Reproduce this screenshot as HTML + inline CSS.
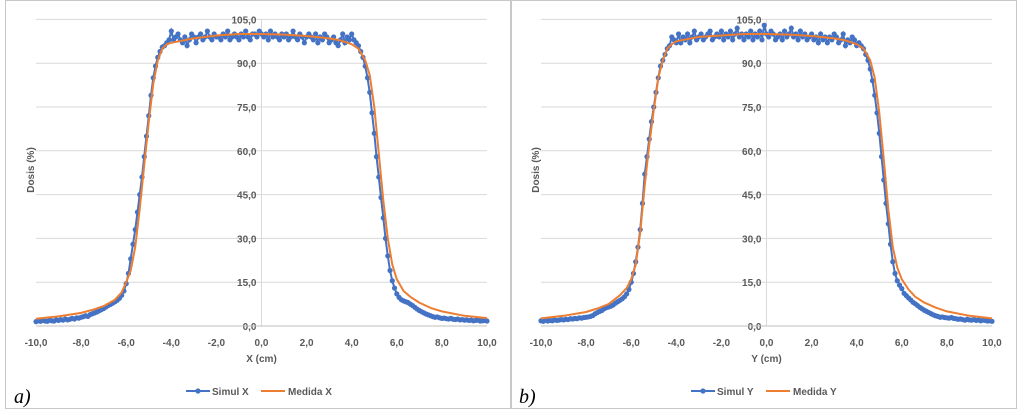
<!DOCTYPE html>
<html><head><meta charset="utf-8">
<style>
body{margin:0;background:#fff;width:1025px;height:415px;overflow:hidden;font-family:"Liberation Sans",sans-serif}
svg{display:block}
</style></head>
<body>
<svg id="chart" width="1025" height="415"></svg>
<script>
const gridX = [];
for (let i = 0; i <= 200; i++) gridX.push(-10 + i * 0.1);
const simulX = [1.5,1.8,1.6,1.9,1.7,1.6,2.0,1.8,1.7,2.1,1.9,
2.2,2.0,2.4,2.1,2.3,2.6,2.4,2.8,2.7,3.0,
3.2,3.5,3.3,3.9,4.2,4.5,4.8,5.2,5.6,6.0,
6.5,7.0,7.4,7.8,8.3,8.8,9.5,10.5,12,14.5,
18,23,28,33,39,45,51,58,65,72,
79,85,89,92,94,95.5,96,97,98,101,
98,99,100,98,97,99,96,98,100,99,
97,99,100,98,99,101,99,98,100,99,
99,98,100,99,101,98,99,100,99,98,
100,99,101,99,98,100,100,99,101,100,
99,100,98,101,99,100,99,98,100,99,
100,98,99,101,99,98,100,99,97,99,
100,99,98,100,97,99,98,100,99,97,
98,99,97,96,98,100,97,99,98,100,
98,97,96,94,92,89,85,80,73,66,
58,51,44,37,30,24,19,15.5,13,11,
9.8,9.0,8.6,8.3,8.0,7.5,7.0,6.4,5.8,5.3,
4.9,4.5,4.1,3.8,3.5,3.2,3.0,3.1,2.8,2.6,
2.7,2.5,2.4,2.6,2.3,2.2,2.4,2.1,2.2,2.0,
2.1,1.9,2.0,1.8,1.9,2.0,1.7,1.8,1.9,1.7];
const simulY = [1.8,1.6,2.0,1.7,1.9,1.8,2.1,1.9,2.0,2.2,2.1,
2.3,2.2,2.5,2.4,2.6,2.5,2.8,2.7,2.9,3.0,
3.1,3.3,3.6,4.2,4.6,5.0,5.3,5.9,6.3,6.5,
6.8,7.2,7.8,8.3,8.8,9.3,10,11,12.5,15,
18,22,27,33,42,52,58,64,70,75,
80,85,89,91,93,95,96,99,98,97,
100,97,99,98,100,97,99,101,98,99,
100,98,99,100,101,98,99,100,99,101,
98,100,99,101,98,100,102,99,100,98,
100,99,101,98,100,99,101,98,103,100,
99,101,100,98,99,100,98,101,99,100,
102,99,100,98,101,99,100,98,99,100,
98,99,97,100,98,99,97,99,98,100,
99,97,98,100,96,98,97,99,98,96,
97,96,95,93,91,88,84,79,73,66,
58,50,42,35,28,22,18,15.5,14,12.8,
11.2,10.4,9.6,8.9,8.1,7.6,7.0,6.4,5.9,5.4,
5.0,4.6,4.2,3.8,3.5,3.3,3.0,3.1,2.9,2.8,
2.7,2.9,2.6,2.5,2.3,2.4,2.2,2.0,2.3,2.1,
2.0,2.2,1.9,2.1,1.8,2.0,1.9,1.7,1.8,1.6];
const medPos = [-10,-9,-8,-7.5,-7,-6.5,-6.2,-6,-5.8,-5.6,-5.4,-5.2,-5.0,-4.8,-4.6,-4.4,-4.2,-4,-3,-2,-1,0,1,2,3,3.5,4,4.3,4.6,4.8,5.0,5.2,5.4,5.6,5.8,6,6.3,6.6,7,7.5,8,9,10];
const medidaX = [2.5,3.3,4.5,5.5,6.8,9,11.5,15,19,27,40,55,70,83,91,95,96.5,97,98.5,99.5,100,100,99.8,99.3,98.5,97.8,96.5,95,91,86,75,59,43,30,21,16,12,10,8,6.2,5,3.5,2.7];
const medidaY = [2.6,3.5,4.8,6,7.5,10.5,13,16,21,32,48,62,74,85,91,95,96.5,97.5,99,99.5,100,100,99.8,99.3,98.5,97.8,96.5,95,91,85,73,57,40,27,20,16,12.5,10,8,6.3,5,3.5,2.6];
const yTicks = [0,15,30,45,60,75,90,105];
const yTickLabels = ["0,0","15,0","30,0","45,0","60,0","75,0","90,0","105,0"];
const xTicks = [-10,-8,-6,-4,-2,0,2,4,6,8,10];
const xTickLabels = ["-10,0","-8,0","-6,0","-4,0","-2,0","0,0","2,0","4,0","6,0","8,0","10,0"];

const NS = "http://www.w3.org/2000/svg";
const svg = document.getElementById("chart");
function mk(tag, attrs, parent) {
  const e = document.createElementNS(NS, tag);
  for (const k in attrs) e.setAttribute(k, attrs[k]);
  (parent || svg).appendChild(e);
  return e;
}
function panel(ox, simul, medida, axisName, tag, lbl) {
  const g = mk("g", {});
  
  
  const x0 = ox + 36, x1 = ox + 487;
  const xs = v => x0 + (v + 10) / 20 * (x1 - x0);
  const ys = v => 326 - v * 2.92;
  const border = mk("rect", {x: ox + 5.5, y: 0.5, width: 506, height: 408, fill: "none", stroke: "#c8c8c8"}, g);
  
  
  yTicks.forEach((t, i) => {
    if (t > 0) {
      const gl = mk("line", {x1: x0, x2: x1, y1: ys(t), y2: ys(t), stroke: "#d9d9d9", "stroke-width": 1}, g);
      
      
    }
    const tl = mk("text", {x: xs(0) - 5, y: ys(t) + 4, "text-anchor": "end", "font-size": 10, "font-weight": "bold", fill: "#595959"}, g);
    tl.textContent = yTickLabels[i];
    
    
  });
  const va = mk("line", {x1: xs(0), x2: xs(0), y1: ys(105), y2: ys(0), stroke: "#d9d9d9"}, g);
  
  
  const ha = mk("line", {x1: x0, x2: x1, y1: ys(0), y2: ys(0), stroke: "#bfbfbf"}, g);
  
  
  xTicks.forEach((t, i) => {
    const tl = mk("text", {x: xs(t), y: 346, "text-anchor": "middle", "font-size": 10, "font-weight": "bold", fill: "#595959"}, g);
    tl.textContent = xTickLabels[i];
    
    
  });
  const xt = mk("text", {x: xs(0), y: 362, "text-anchor": "middle", "font-size": 10, "font-weight": "bold", fill: "#595959"}, g);
  xt.textContent = axisName + " (cm)";
  
  
  const yt = mk("text", {x: 0, y: 0, transform: `translate(${ox + 34},170) rotate(-90)`, "text-anchor": "middle", "font-size": 10, "font-weight": "bold", fill: "#595959"}, g);
  yt.textContent = "Dosis (%)";
  
  
  // simul series
  const sp = simul.map((v, i) => xs(gridX[i]).toFixed(1) + "," + ys(v).toFixed(1)).join(" ");
  const sl = mk("polyline", {points: sp, fill: "none", stroke: "#4472C4", "stroke-width": 2}, g);
  
  
  simul.forEach((v, i) => {
    const c = mk("circle", {cx: xs(gridX[i]), cy: ys(v), r: 2.6, fill: "#4472C4"}, g);
    
    
  });
  const mp = medida.map((v, i) => xs(medPos[i]).toFixed(1) + "," + ys(v).toFixed(1)).join(" ");
  const ml = mk("polyline", {points: mp, fill: "none", stroke: "#ED7D31", "stroke-width": 2, "stroke-linejoin": "round"}, g);
  
  
  // legend
  const lg = mk("g", {}, g);
  
  
  mk("line", {x1: ox + 186, x2: ox + 210, y1: 391, y2: 391, stroke: "#4472C4", "stroke-width": 2}, lg);
  mk("circle", {cx: ox + 198, cy: 391, r: 2.6, fill: "#4472C4"}, lg);
  const l1 = mk("text", {x: ox + 212, y: 395, "font-size": 10, "font-weight": "bold", fill: "#595959"}, lg);
  l1.textContent = "Simul " + axisName;
  
  
  mk("line", {x1: ox + 261, x2: ox + 285, y1: 391, y2: 391, stroke: "#ED7D31", "stroke-width": 2}, lg);
  const l2 = mk("text", {x: ox + 288, y: 395, "font-size": 10, "font-weight": "bold", fill: "#595959"}, lg);
  l2.textContent = "Medida " + axisName;
  
  
  const pl = mk("text", {x: ox + 14, y: 403, "font-size": 20, "font-style": "italic", "font-family": "Liberation Serif, serif", fill: "#000"}, g);
  pl.textContent = lbl;
  
  
}
panel(0, simulX, medidaX, "X", "a", "a)");
panel(505, simulY, medidaY, "Y", "b", "b)");
</script>
</body></html>
